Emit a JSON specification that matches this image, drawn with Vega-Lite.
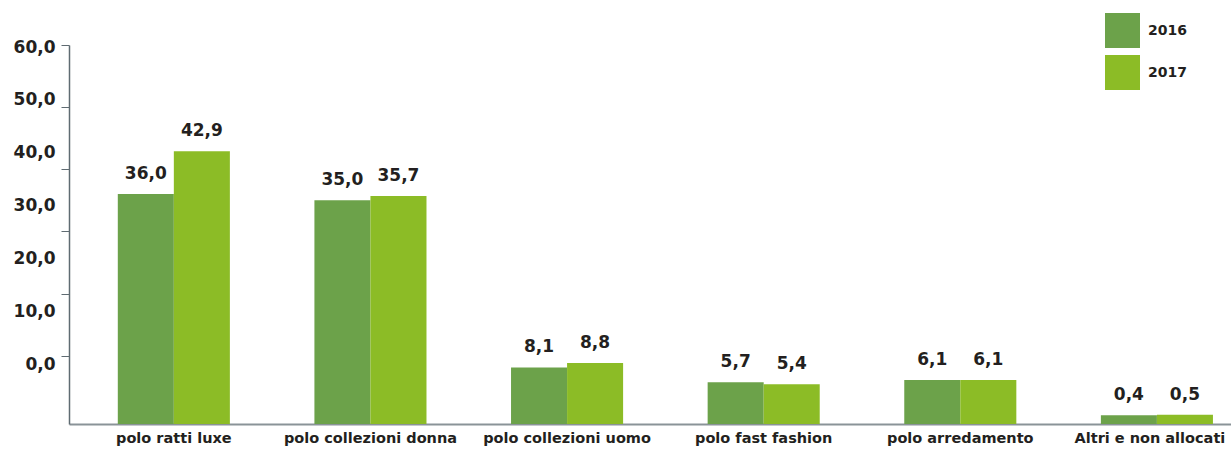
{
  "$schema": "https://vega.github.io/schema/vega-lite/v6.json",
  "autosize": {"type": "none"},
  "padding": {"left": 69, "top": 45, "right": 0, "bottom": 26},
  "width": 1162,
  "height": 379,
  "background": "#ffffff",
  "config": {
    "locale": {"number": {"decimal": ",", "thousands": ".", "grouping": [3], "currency": ["", " €"]}},
    "view": {"stroke": null},
    "font": "DejaVu Sans"
  },
  "data": {
    "values": [
      {"polo": "polo ratti luxe", "anno": "2016", "valore": 36.0},
      {"polo": "polo ratti luxe", "anno": "2017", "valore": 42.9},
      {"polo": "polo collezioni donna", "anno": "2016", "valore": 35.0},
      {"polo": "polo collezioni donna", "anno": "2017", "valore": 35.7},
      {"polo": "polo collezioni uomo", "anno": "2016", "valore": 8.1},
      {"polo": "polo collezioni uomo", "anno": "2017", "valore": 8.8},
      {"polo": "polo fast fashion", "anno": "2016", "valore": 5.7},
      {"polo": "polo fast fashion", "anno": "2017", "valore": 5.4},
      {"polo": "polo arredamento", "anno": "2016", "valore": 6.1},
      {"polo": "polo arredamento", "anno": "2017", "valore": 6.1},
      {"polo": "Altri e non allocati", "anno": "2016", "valore": 0.4},
      {"polo": "Altri e non allocati", "anno": "2017", "valore": 0.5}
    ]
  },
  "encoding": {
    "x": {
      "field": "polo",
      "type": "nominal",
      "sort": null,
      "scale": {"paddingInner": 0.43, "paddingOuter": 0.17, "align": 0.73},
      "axis": {
        "title": null,
        "ticks": false,
        "labelAngle": 0,
        "labelFont": "DejaVu Sans",
        "labelFontSize": 14.5,
        "labelFontWeight": "bold",
        "labelColor": "#231f20",
        "labelPadding": 7,
        "labelOffset": {"expr": "datum.value === 'Altri e non allocati' ? -7 : 0"},
        "domainColor": "#8a9398",
        "domainWidth": 2
      }
    },
    "xOffset": {"field": "anno", "type": "nominal", "scale": {"paddingInner": 0, "paddingOuter": 0}},
    "y": {
      "field": "valore",
      "type": "quantitative",
      "scale": {"domain": [-1, 60], "zero": false, "nice": false},
      "axis": {
        "title": null,
        "grid": false,
        "values": [0, 10, 20, 30, 40, 50, 60],
        "format": ".1f",
        "labelFont": "DejaVu Sans",
        "labelFontSize": 17,
        "labelFontWeight": "bold",
        "labelColor": "#231f20",
        "labelPadding": 6,
        "labelOffset": {"expr": "2 - (60 - datum.value) * 0.92"},
        "tickSize": 8,
        "tickColor": "#5f6b72",
        "tickOpacity": {"condition": {"test": "datum.value === 0", "value": 0}, "value": 1},
        "domainColor": "#5f6b72",
        "domainWidth": 1.5,
        "zindex": 1
      }
    }
  },
  "layer": [
    {
      "mark": {"type": "bar"},
      "encoding": {
        "y2": {"datum": -1},
        "color": {
          "field": "anno",
          "type": "nominal",
          "scale": {"domain": ["2016", "2017"], "range": ["#6ca24a", "#8cbc26"]},
          "legend": {
            "title": null,
            "orient": "none",
            "legendX": 1036,
            "legendY": -32,
            "symbolType": "square",
            "symbolSize": 1225,
            "symbolStrokeWidth": 0,
            "symbolOpacity": 1,
            "labelFont": "DejaVu Sans",
            "labelFontSize": 14,
            "labelFontWeight": "bold",
            "labelColor": "#231f20",
            "labelOffset": 8,
            "rowPadding": 7
          }
        }
      }
    },
    {
      "mark": {"type": "text", "dy": -20, "font": "DejaVu Sans", "fontSize": 17, "fontWeight": "bold", "color": "#231f20"},
      "encoding": {
        "text": {"field": "valore", "type": "quantitative", "format": ".1f"}
      }
    }
  ]
}
